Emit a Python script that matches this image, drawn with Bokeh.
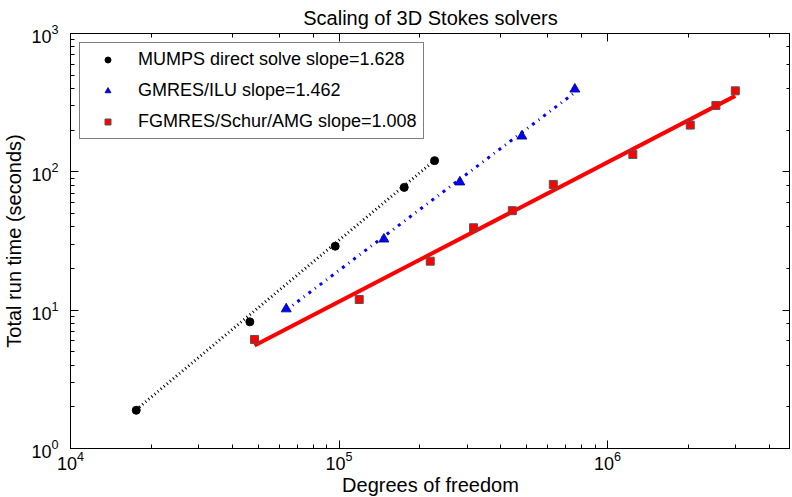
from bokeh.plotting import figure
from bokeh.models import LogAxis, Legend, LegendItem, Range1d, LogTicker
from bokeh.embed import file_html
from bokeh.resources import INLINE

# ---- data ----
mumps_dof = [17570, 46540, 96780, 174900, 226900]
mumps_time = [1.89, 8.23, 29.0, 77.2, 120.5]
mumps_fit_dof = [17570, 226900]
mumps_fit_time = [1.91, 121.0]

gmres_dof = [63580, 146900, 281800, 479500, 755300]
gmres_time = [10.2, 32.6, 84.3, 181.0, 396.0]
gmres_fit_dof = [63580, 755300]
gmres_fit_time = [10.0, 374.0]

fgmres_dof = [48450, 118900, 218600, 316900, 441800, 627900, 1242000, 2032000, 2532000, 2990000]
fgmres_time = [6.14, 11.95, 22.6, 39.4, 52.4, 81.1, 133.6, 217.6, 302.0, 385.0]
fgmres_fit_dof = [48450, 2990000]
fgmres_fit_time = [5.55, 354.0]

labels = ["MUMPS direct solve slope=1.628",
          "GMRES/ILU slope=1.462",
          "FGMRES/Schur/AMG slope=1.008"]
title_text = "Scaling of 3D Stokes solvers"
x_label = "Degrees of freedom"
y_label = "Total run time (seconds)"

FONT = "Liberation Sans"

p = figure(frame_width=720, frame_height=415, x_axis_type="log", y_axis_type="log",
           x_range=Range1d(1e4, 4.80e6), y_range=Range1d(1, 1000),
           output_backend="svg", toolbar_location=None,
           min_border_left=0, min_border_right=0, min_border_top=0,
           min_border_bottom=0, title=title_text)
p.grid.visible = False
p.outline_line_color = "black"
p.background_fill_color = "white"
p.border_fill_color = "white"
p.title.align = "center"
p.title.text_font = FONT
p.title.text_font_size = "20px"
p.title.text_font_style = "normal"
p.title.text_color = "black"
p.title.standoff = 9
p.title.offset = 0

xa = p.below[0]
ya = p.left[0]

# fit lines
p.line(mumps_fit_dof, mumps_fit_time, line_color="black", line_width=3, line_dash="1 3")
p.line(gmres_fit_dof, gmres_fit_time, line_color="blue", line_width=3, line_dash="3 5 1 5")
p.line(fgmres_fit_dof, fgmres_fit_time, line_color="red", line_width=4)

# markers
r_m = p.scatter(mumps_dof, mumps_time, marker="circle", size=8,
                fill_color="black", line_color="black")
r_g = p.scatter(gmres_dof, gmres_time, marker="triangle", size=10,
                fill_color="blue", line_color="#000066", line_width=0.8)
r_f = p.scatter(fgmres_dof, fgmres_time, marker="square", size=8,
                fill_color="red", line_color="#555555", line_width=1)

# extra axes for ticks on top/right
top = LogAxis(ticker=LogTicker())
right = LogAxis(ticker=LogTicker())
p.add_layout(top, "above")
p.add_layout(right, "right")
for ax in (top, right):
    ax.major_label_text_font_size = "1px"
    ax.major_label_text_alpha = 0
    ax.major_label_standoff = 0

for ax in (xa, ya, top, right):
    ax.major_tick_in = 8
    ax.major_tick_out = 0
    ax.minor_tick_in = 4
    ax.minor_tick_out = 0
    ax.axis_line_color = "black"
    ax.major_tick_line_color = "black"
    ax.minor_tick_line_color = "black"
    ax.major_label_text_font = FONT
    ax.major_label_text_color = "black"

xa.major_label_text_font_size = "18px"
ya.major_label_text_font_size = "18px"
xa.major_label_standoff = 2
ya.major_label_standoff = 12
xa.axis_label = x_label
ya.axis_label = y_label
for ax in (xa, ya):
    ax.axis_label_text_font = FONT
    ax.axis_label_text_font_size = "20px"
    ax.axis_label_text_font_style = "normal"
    ax.axis_label_text_color = "black"
xa.axis_label_standoff = 1
ya.axis_label_standoff = 3

legend = Legend(items=[LegendItem(label=labels[0], renderers=[r_m]),
                       LegendItem(label=labels[1], renderers=[r_g]),
                       LegendItem(label=labels[2], renderers=[r_f])],
                location="top_left")
legend.margin = 9
legend.padding = 6
legend.spacing = 10
legend.glyph_width = 43
legend.glyph_height = 15
legend.label_standoff = 9
legend.label_width = 279
legend.label_height = 21
legend.label_text_font = FONT
legend.label_text_font_size = "18px"
legend.label_text_color = "black"
legend.border_line_color = "black"
legend.border_line_width = 1
legend.background_fill_alpha = 1
p.add_layout(legend)

open("out.html", "w").write(file_html(p, INLINE))
